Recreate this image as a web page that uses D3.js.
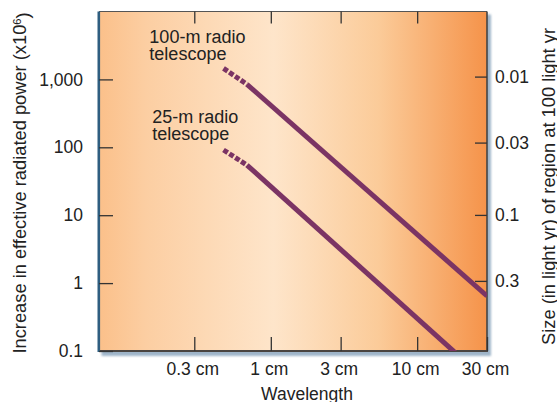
<!DOCTYPE html>
<html>
<head>
<meta charset="utf-8">
<script src="https://cdn.jsdelivr.net/npm/d3@7"></script>
<style>
  html, body { margin: 0; padding: 0; background: #fff; }
  svg { display: block; }
  text { font-family: "Liberation Sans", Arial, Helvetica, sans-serif; fill: #222; }
</style>
</head>
<body>
<svg id="chart" width="557" height="402"></svg>
<script>
// ---- data ----
const xTicks = [0.3, 1, 3, 10, 30];
const xTickLabels = ["0.3 cm", "1 cm", "3 cm", "10 cm", "30 cm"];
const yTicks = [0.1, 1, 10, 100, 1000];
const yTickLabels = ["0.1", "1", "10", "100", "1,000"];
const rTicks = [0.01, 0.03, 0.1, 0.3];
const rTickLabels = ["0.01", "0.03", "0.1", "0.3"];
const xDomain = [0.067, 30];
const yDomain = [0.1, 10000];
const rDomain = [0.01, 0.3];

// wavelength (cm), power increase (x10^6)
const dish100Dashed = [[0.475, 1456], [0.687, 847]];
const dish100Solid  = [[0.687, 847], [30, 0.646]];
const dish25Dashed  = [[0.475, 91.3], [0.687, 54.8]];
const dish25Solid   = [[0.687, 54.8], [19, 0.087]];
const labels = [
  { lines: ["100-m radio", "telescope"], at: [0.148, 3436] },
  { lines: ["25-m radio", "telescope"], at: [0.155, 228] }
];

// ---- layout ----
const svg = d3.select("#chart");
const L = 99, R = 487, T = 11.5, B = 351;

const x = d3.scaleLog().domain(xDomain).range([L, R]);
const y = d3.scaleLog().domain(yDomain).range([B, T]);
const yr = d3.scaleLog().domain(rDomain).range([76.6, 280.9]);

const defs = svg.append("defs");
const grad = defs.append("linearGradient").attr("id", "bg").attr("x1", "0").attr("x2", "1").attr("y1", "0").attr("y2", "0");
[["0%", "#fbc08a"], ["12%", "#fccea2"], ["45%", "#fee5ca"], ["72%", "#fbcb99"], ["100%", "#f5934a"]]
  .forEach(([o, c]) => grad.append("stop").attr("offset", o).attr("stop-color", c));
const blur = defs.append("filter").attr("id", "sh").attr("x", "-5%").attr("y", "-5%").attr("width", "110%").attr("height", "110%");
blur.append("feGaussianBlur").attr("stdDeviation", 1.3);
defs.append("clipPath").attr("id", "clip").append("rect")
  .attr("x", L).attr("y", T).attr("width", R - L).attr("height", B - T);

// shadow
svg.append("rect").attr("x", L + 2.5).attr("y", T + 3).attr("width", R - L + 1.5).attr("height", B - T + 2)
  .attr("fill", "#9fb5c9").attr("filter", "url(#sh)");
// plot background
svg.append("rect").attr("x", L).attr("y", T).attr("width", R - L).attr("height", B - T).attr("fill", "url(#bg)");

// borders
svg.append("line").attr("x1", L).attr("x2", R).attr("y1", T).attr("y2", T).attr("stroke", "#555").attr("stroke-width", 1);
svg.append("line").attr("x1", R).attr("x2", R).attr("y1", T).attr("y2", B + 1).attr("stroke", "#444").attr("stroke-width", 1.6);
svg.append("line").attr("x1", L).attr("x2", R + 0.8).attr("y1", B).attr("y2", B).attr("stroke", "#4a4440").attr("stroke-width", 1.8);
svg.append("line").attr("x1", L - 0.2).attr("x2", L - 0.2).attr("y1", T).attr("y2", B + 1).attr("stroke", "#2f5e80").attr("stroke-width", 2.6);

// axes
function styleAxis(g) {
  g.select(".domain").remove();
  g.selectAll(".tick line").attr("stroke", "#333").attr("stroke-width", 1.3);
  g.selectAll(".tick text").style("font-size", "17.5px").attr("fill", "#222");
}
svg.append("g").attr("transform", `translate(${L},0)`)
  .call(d3.axisLeft(y).tickValues(yTicks).tickSize(-14).tickPadding(16)
    .tickFormat((d, i) => yTickLabels[i]))
  .call(styleAxis);
svg.append("g").attr("transform", `translate(0,${B})`)
  .call(d3.axisBottom(x).tickValues(xTicks).tickSize(-14).tickPadding(12)
    .tickFormat((d, i) => xTickLabels[i]))
  .call(styleAxis)
  .call(g => g.selectAll(".tick text").attr("dx", "-2"));
svg.append("g").attr("transform", `translate(0,${T})`)
  .call(d3.axisTop(x).tickValues(xTicks.slice(0, 4)).tickSize(-12).tickFormat(""))
  .call(styleAxis);
svg.append("g").attr("transform", `translate(${R},0)`)
  .call(d3.axisRight(yr).tickValues(rTicks).tickSize(-12).tickPadding(8)
    .tickFormat((d, i) => rTickLabels[i]))
  .call(styleAxis);

// lines
const line = d3.line().x(d => x(d[0])).y(d => y(d[1]));
const lineG = svg.append("g").attr("clip-path", "url(#clip)");
const purple = "#7b3464";
[dish100Solid, dish25Solid].forEach(d =>
  lineG.append("path").attr("d", line(d)).attr("fill", "none").attr("stroke", purple).attr("stroke-width", 5));
[dish100Dashed, dish25Dashed].forEach(d =>
  lineG.append("path").attr("d", line(d)).attr("fill", "none").attr("stroke", purple).attr("stroke-width", 5)
    .attr("stroke-dasharray", "5,2"));

// annotations
labels.forEach(lb => {
  const t = svg.append("text").attr("x", x(lb.at[0])).attr("y", y(lb.at[1])).style("font-size", "18px");
  lb.lines.forEach((s, i) => t.append("tspan").attr("x", x(lb.at[0])).attr("dy", i === 0 ? 0 : "0.95em").text(s));
});

// axis titles
svg.append("text").attr("x", (L + R) / 2 + 14).attr("y", 399.5).attr("text-anchor", "middle")
  .style("font-size", "17.5px").text("Wavelength");
const yt = svg.append("text").attr("transform", "translate(26,183) rotate(-90)").attr("text-anchor", "middle")
  .style("font-size", "18.3px");
yt.append("tspan").text("Increase in effective radiated power (x10");
yt.append("tspan").attr("dy", "-0.45em").style("font-size", "11px").text("6");
yt.append("tspan").attr("dy", "0.45em").text(")");
svg.append("text").attr("transform", "translate(555,186.5) rotate(-90)").attr("text-anchor", "middle")
  .style("font-size", "18.3px").text("Size (in light yr) of region at 100 light yr");
</script>
</body>
</html>
